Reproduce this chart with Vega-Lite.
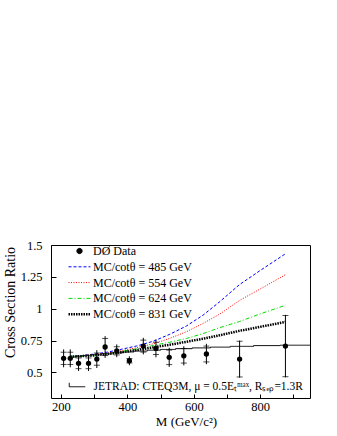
{
  "$schema": "https://vega.github.io/schema/vega-lite/v6.json",
  "width": 259,
  "height": 153,
  "autosize": "none",
  "padding": {"left": 51, "top": 245, "right": 27, "bottom": 38},
  "background": "white",
  "config": {
    "view": {"stroke": "black", "strokeWidth": 1},
    "font": "Liberation Serif",
    "axis": {
      "grid": false,
      "domain": false,
      "tickColor": "black",
      "labelColor": "black",
      "titleColor": "black",
      "labelFont": "Liberation Serif",
      "titleFont": "Liberation Serif",
      "labelFontSize": 12.5,
      "titleFontSize": 13,
      "titleFontWeight": "normal"
    }
  },
  "datasets": {
    "points": [
      {"M": 208, "r": 0.611, "lo": 0.541, "hi": 0.681, "slo": 0.563, "shi": 0.659, "series": "DØ Data"},
      {"M": 228, "r": 0.611, "lo": 0.541, "hi": 0.681, "slo": 0.563, "shi": 0.659, "series": "DØ Data"},
      {"M": 253, "r": 0.572, "lo": 0.512, "hi": 0.632, "slo": 0.530, "shi": 0.614, "series": "DØ Data"},
      {"M": 283, "r": 0.572, "lo": 0.512, "hi": 0.632, "slo": 0.530, "shi": 0.614, "series": "DØ Data"},
      {"M": 308, "r": 0.605, "lo": 0.535, "hi": 0.675, "slo": 0.557, "shi": 0.653, "series": "DØ Data"},
      {"M": 333, "r": 0.700, "lo": 0.615, "hi": 0.785, "slo": 0.633, "shi": 0.767, "series": "DØ Data"},
      {"M": 368, "r": 0.670, "lo": 0.620, "hi": 0.720, "slo": 0.638, "shi": 0.702, "series": "DØ Data"},
      {"M": 406, "r": 0.592, "lo": 0.557, "hi": 0.627, "slo": 0.575, "shi": 0.609, "series": "DØ Data"},
      {"M": 448, "r": 0.707, "lo": 0.642, "hi": 0.772, "slo": 0.660, "shi": 0.754, "series": "DØ Data"},
      {"M": 486, "r": 0.689, "lo": 0.619, "hi": 0.759, "slo": 0.641, "shi": 0.737, "series": "DØ Data"},
      {"M": 526, "r": 0.619, "lo": 0.544, "hi": 0.694, "slo": 0.562, "shi": 0.676, "series": "DØ Data"},
      {"M": 570, "r": 0.631, "lo": 0.556, "hi": 0.706, "slo": 0.574, "shi": 0.688, "series": "DØ Data"},
      {"M": 638, "r": 0.645, "lo": 0.565, "hi": 0.725, "slo": 0.583, "shi": 0.707, "series": "DØ Data"},
      {"M": 738, "r": 0.605, "lo": 0.460, "hi": 0.750, "slo": 0.465, "shi": 0.745, "series": "DØ Data"},
      {"M": 876, "r": 0.707, "lo": 0.462, "hi": 0.952, "slo": 0.467, "shi": 0.947, "series": "DØ Data"}
    ],
    "curves": [
      {"M": 228, "r": 0.625, "series": "MC/cotθ = 485 GeV"},
      {"M": 260, "r": 0.632, "series": "MC/cotθ = 485 GeV"},
      {"M": 300, "r": 0.645, "series": "MC/cotθ = 485 GeV"},
      {"M": 340, "r": 0.660, "series": "MC/cotθ = 485 GeV"},
      {"M": 378, "r": 0.680, "series": "MC/cotθ = 485 GeV"},
      {"M": 428, "r": 0.708, "series": "MC/cotθ = 485 GeV"},
      {"M": 478, "r": 0.745, "series": "MC/cotθ = 485 GeV"},
      {"M": 528, "r": 0.800, "series": "MC/cotθ = 485 GeV"},
      {"M": 578, "r": 0.865, "series": "MC/cotθ = 485 GeV"},
      {"M": 628, "r": 0.950, "series": "MC/cotθ = 485 GeV"},
      {"M": 678, "r": 1.055, "series": "MC/cotθ = 485 GeV"},
      {"M": 738, "r": 1.190, "series": "MC/cotθ = 485 GeV"},
      {"M": 800, "r": 1.300, "series": "MC/cotθ = 485 GeV"},
      {"M": 876, "r": 1.431, "series": "MC/cotθ = 485 GeV"},
      {"M": 228, "r": 0.625, "series": "MC/cotθ = 554 GeV"},
      {"M": 260, "r": 0.630, "series": "MC/cotθ = 554 GeV"},
      {"M": 300, "r": 0.640, "series": "MC/cotθ = 554 GeV"},
      {"M": 340, "r": 0.652, "series": "MC/cotθ = 554 GeV"},
      {"M": 378, "r": 0.668, "series": "MC/cotθ = 554 GeV"},
      {"M": 428, "r": 0.695, "series": "MC/cotθ = 554 GeV"},
      {"M": 478, "r": 0.725, "series": "MC/cotθ = 554 GeV"},
      {"M": 528, "r": 0.768, "series": "MC/cotθ = 554 GeV"},
      {"M": 578, "r": 0.820, "series": "MC/cotθ = 554 GeV"},
      {"M": 628, "r": 0.885, "series": "MC/cotθ = 554 GeV"},
      {"M": 678, "r": 0.958, "series": "MC/cotθ = 554 GeV"},
      {"M": 738, "r": 1.066, "series": "MC/cotθ = 554 GeV"},
      {"M": 800, "r": 1.155, "series": "MC/cotθ = 554 GeV"},
      {"M": 876, "r": 1.267, "series": "MC/cotθ = 554 GeV"},
      {"M": 228, "r": 0.625, "series": "MC/cotθ = 624 GeV"},
      {"M": 260, "r": 0.629, "series": "MC/cotθ = 624 GeV"},
      {"M": 300, "r": 0.636, "series": "MC/cotθ = 624 GeV"},
      {"M": 340, "r": 0.648, "series": "MC/cotθ = 624 GeV"},
      {"M": 378, "r": 0.662, "series": "MC/cotθ = 624 GeV"},
      {"M": 428, "r": 0.685, "series": "MC/cotθ = 624 GeV"},
      {"M": 478, "r": 0.712, "series": "MC/cotθ = 624 GeV"},
      {"M": 528, "r": 0.738, "series": "MC/cotθ = 624 GeV"},
      {"M": 578, "r": 0.767, "series": "MC/cotθ = 624 GeV"},
      {"M": 628, "r": 0.805, "series": "MC/cotθ = 624 GeV"},
      {"M": 678, "r": 0.852, "series": "MC/cotθ = 624 GeV"},
      {"M": 738, "r": 0.900, "series": "MC/cotθ = 624 GeV"},
      {"M": 800, "r": 0.960, "series": "MC/cotθ = 624 GeV"},
      {"M": 876, "r": 1.027, "series": "MC/cotθ = 624 GeV"},
      {"M": 228, "r": 0.625, "series": "MC/cotθ = 831 GeV"},
      {"M": 260, "r": 0.628, "series": "MC/cotθ = 831 GeV"},
      {"M": 300, "r": 0.634, "series": "MC/cotθ = 831 GeV"},
      {"M": 340, "r": 0.645, "series": "MC/cotθ = 831 GeV"},
      {"M": 378, "r": 0.657, "series": "MC/cotθ = 831 GeV"},
      {"M": 428, "r": 0.676, "series": "MC/cotθ = 831 GeV"},
      {"M": 478, "r": 0.697, "series": "MC/cotθ = 831 GeV"},
      {"M": 528, "r": 0.718, "series": "MC/cotθ = 831 GeV"},
      {"M": 578, "r": 0.741, "series": "MC/cotθ = 831 GeV"},
      {"M": 628, "r": 0.765, "series": "MC/cotθ = 831 GeV"},
      {"M": 678, "r": 0.792, "series": "MC/cotθ = 831 GeV"},
      {"M": 738, "r": 0.827, "series": "MC/cotθ = 831 GeV"},
      {"M": 800, "r": 0.858, "series": "MC/cotθ = 831 GeV"},
      {"M": 876, "r": 0.897, "series": "MC/cotθ = 831 GeV"}
    ],
    "jetrad": [
      {"M": 228, "r": 0.622, "model": "JETRAD: CTEQ3M, μ = 0.5Eₜᵐᵃˣ, Rₛₑₚ=1.3R"},
      {"M": 245, "r": 0.627, "model": "JETRAD: CTEQ3M, μ = 0.5Eₜᵐᵃˣ, Rₛₑₚ=1.3R"},
      {"M": 265, "r": 0.633, "model": "JETRAD: CTEQ3M, μ = 0.5Eₜᵐᵃˣ, Rₛₑₚ=1.3R"},
      {"M": 290, "r": 0.640, "model": "JETRAD: CTEQ3M, μ = 0.5Eₜᵐᵃˣ, Rₛₑₚ=1.3R"},
      {"M": 320, "r": 0.647, "model": "JETRAD: CTEQ3M, μ = 0.5Eₜᵐᵃˣ, Rₛₑₚ=1.3R"},
      {"M": 350, "r": 0.654, "model": "JETRAD: CTEQ3M, μ = 0.5Eₜᵐᵃˣ, Rₛₑₚ=1.3R"},
      {"M": 385, "r": 0.661, "model": "JETRAD: CTEQ3M, μ = 0.5Eₜᵐᵃˣ, Rₛₑₚ=1.3R"},
      {"M": 420, "r": 0.668, "model": "JETRAD: CTEQ3M, μ = 0.5Eₜᵐᵃˣ, Rₛₑₚ=1.3R"},
      {"M": 460, "r": 0.675, "model": "JETRAD: CTEQ3M, μ = 0.5Eₜᵐᵃˣ, Rₛₑₚ=1.3R"},
      {"M": 500, "r": 0.681, "model": "JETRAD: CTEQ3M, μ = 0.5Eₜᵐᵃˣ, Rₛₑₚ=1.3R"},
      {"M": 545, "r": 0.687, "model": "JETRAD: CTEQ3M, μ = 0.5Eₜᵐᵃˣ, Rₛₑₚ=1.3R"},
      {"M": 595, "r": 0.693, "model": "JETRAD: CTEQ3M, μ = 0.5Eₜᵐᵃˣ, Rₛₑₚ=1.3R"},
      {"M": 650, "r": 0.699, "model": "JETRAD: CTEQ3M, μ = 0.5Eₜᵐᵃˣ, Rₛₑₚ=1.3R"},
      {"M": 710, "r": 0.705, "model": "JETRAD: CTEQ3M, μ = 0.5Eₜᵐᵃˣ, Rₛₑₚ=1.3R"},
      {"M": 780, "r": 0.711, "model": "JETRAD: CTEQ3M, μ = 0.5Eₜᵐᵃˣ, Rₛₑₚ=1.3R"},
      {"M": 860, "r": 0.714, "model": "JETRAD: CTEQ3M, μ = 0.5Eₜᵐᵃˣ, Rₛₑₚ=1.3R"},
      {"M": 950, "r": 0.714, "model": "JETRAD: CTEQ3M, μ = 0.5Eₜᵐᵃˣ, Rₛₑₚ=1.3R"}
    ]
  },
  "encoding": {
    "x": {
      "field": "M", "type": "quantitative",
      "scale": {"domain": [170, 950], "nice": false, "zero": false},
      "axis": {
        "values": [200, 300, 400, 500, 600, 700, 800, 900],
        "labelExpr": "datum.value % 200 === 0 ? datum.label : ''",
        "tickSize": -4,
        "labelPadding": 6,
        "title": "M (GeV/c²)",
        "titleX": 135,
        "titleY": 27,
        "titleBaseline": "alphabetic"
      }
    },
    "y": {
      "field": "r", "type": "quantitative",
      "scale": {"domain": [0.3, 1.5], "nice": false, "zero": false},
      "axis": {
        "values": [0.5, 0.75, 1, 1.25, 1.5],
        "labelExpr": "'' + datum.value",
        "tickSize": -5,
        "labelPadding": 14,
        "title": "Cross Section Ratio",
        "titleX": -41,
        "titleY": 57,
        "titleBaseline": "middle",
        "titleFontSize": 14
      }
    }
  },
  "layer": [
    {
      "data": {"name": "jetrad"},
      "mark": {"type": "line", "interpolate": "step-after", "color": "black", "strokeWidth": 1},
      "encoding": {
        "strokeDash": {
          "field": "model", "type": "nominal",
          "scale": {"range": [[1, 0]]},
          "legend": {
            "orient": "none", "legendX": 20.5, "legendY": 136, "title": null, "padding": 0,
            "labelFont": "Liberation Serif", "labelFontSize": 11.5, "labelColor": "black",
            "labelLimit": 400,
            "symbolSize": 100, "symbolType": "M-1.6,-0.8V0H1.6",
            "symbolStrokeColor": "black", "symbolStrokeWidth": 1, "symbolFillColor": "transparent",
            "labelOffset": 10.5
          }
        }
      }
    },
    {
      "data": {"name": "curves"},
      "transform": [{"filter": "datum.series === 'MC/cotθ = 485 GeV'"}],
      "mark": {"type": "line", "strokeWidth": 1, "strokeDash": [3, 2]},
      "encoding": {
        "color": {
          "field": "series", "type": "nominal",
          "scale": {
            "domain": ["DØ Data", "MC/cotθ = 485 GeV", "MC/cotθ = 554 GeV", "MC/cotθ = 624 GeV", "MC/cotθ = 831 GeV"],
            "range": ["black", "#0000ff", "#ff0000", "#00dd00", "black"]
          },
          "legend": {
            "orient": "none", "legendX": 22.5, "legendY": 0, "title": null, "padding": 0,
            "labelFont": "Liberation Serif", "labelFontSize": 12, "labelColor": "black",
            "symbolSize": 100, "symbolType": "M-2.2,0H2.2", "rowPadding": 3.8, "labelOffset": 7.5,
            "encode": {
              "symbols": {
                "update": {
                  "shape": {"signal": "datum.value === 'DØ Data' ? 'circle' : 'M-2.2,0H2.2'"},
                  "size": {"signal": "datum.value === 'DØ Data' ? 28 : 100"},
                  "fill": {"signal": "datum.value === 'DØ Data' ? 'black' : 'transparent'"},
                  "stroke": {"signal": "datum.value === 'MC/cotθ = 485 GeV' ? '#0000ff' : datum.value === 'MC/cotθ = 554 GeV' ? '#ff0000' : datum.value === 'MC/cotθ = 624 GeV' ? '#00dd00' : 'black'"},
                  "strokeWidth": {"signal": "datum.value === 'MC/cotθ = 831 GeV' ? 2.5 : 1"},
                  "strokeDash": {"signal": "datum.value === 'MC/cotθ = 485 GeV' ? [3, 2] : datum.value === 'MC/cotθ = 554 GeV' ? [1, 1.5] : datum.value === 'MC/cotθ = 624 GeV' ? [4, 2, 1, 2] : datum.value === 'MC/cotθ = 831 GeV' ? [1.5, 1] : [1, 0]"},
                  "opacity": {"value": 1}
                }
              }
            }
          }
        }
      }
    },
    {
      "data": {"name": "curves"},
      "transform": [{"filter": "datum.series === 'MC/cotθ = 554 GeV'"}],
      "mark": {"type": "line", "strokeWidth": 1, "strokeDash": [1, 1.5]},
      "encoding": {"color": {"field": "series", "type": "nominal"}}
    },
    {
      "data": {"name": "curves"},
      "transform": [{"filter": "datum.series === 'MC/cotθ = 624 GeV'"}],
      "mark": {"type": "line", "strokeWidth": 1, "strokeDash": [4, 2, 1, 2]},
      "encoding": {"color": {"field": "series", "type": "nominal"}}
    },
    {
      "data": {"name": "curves"},
      "transform": [{"filter": "datum.series === 'MC/cotθ = 831 GeV'"}],
      "mark": {"type": "line", "strokeWidth": 2.5, "strokeDash": [1.5, 1]},
      "encoding": {"color": {"field": "series", "type": "nominal"}}
    },
    {
      "data": {"name": "points"},
      "mark": {"type": "rule", "color": "black", "strokeWidth": 1},
      "encoding": {"y": {"field": "lo", "type": "quantitative"}, "y2": {"field": "hi"}}
    },
    {
      "data": {"name": "points"},
      "mark": {"type": "tick", "orient": "horizontal", "size": 6, "thickness": 1, "color": "black"},
      "encoding": {"y": {"field": "slo", "type": "quantitative"}}
    },
    {
      "data": {"name": "points"},
      "mark": {"type": "tick", "orient": "horizontal", "size": 6, "thickness": 1, "color": "black"},
      "encoding": {"y": {"field": "shi", "type": "quantitative"}}
    },
    {
      "data": {"name": "points"},
      "mark": {"type": "point", "shape": "circle", "filled": true, "size": 28, "opacity": 1},
      "encoding": {"color": {"field": "series", "type": "nominal"}}
    }
  ]
}
